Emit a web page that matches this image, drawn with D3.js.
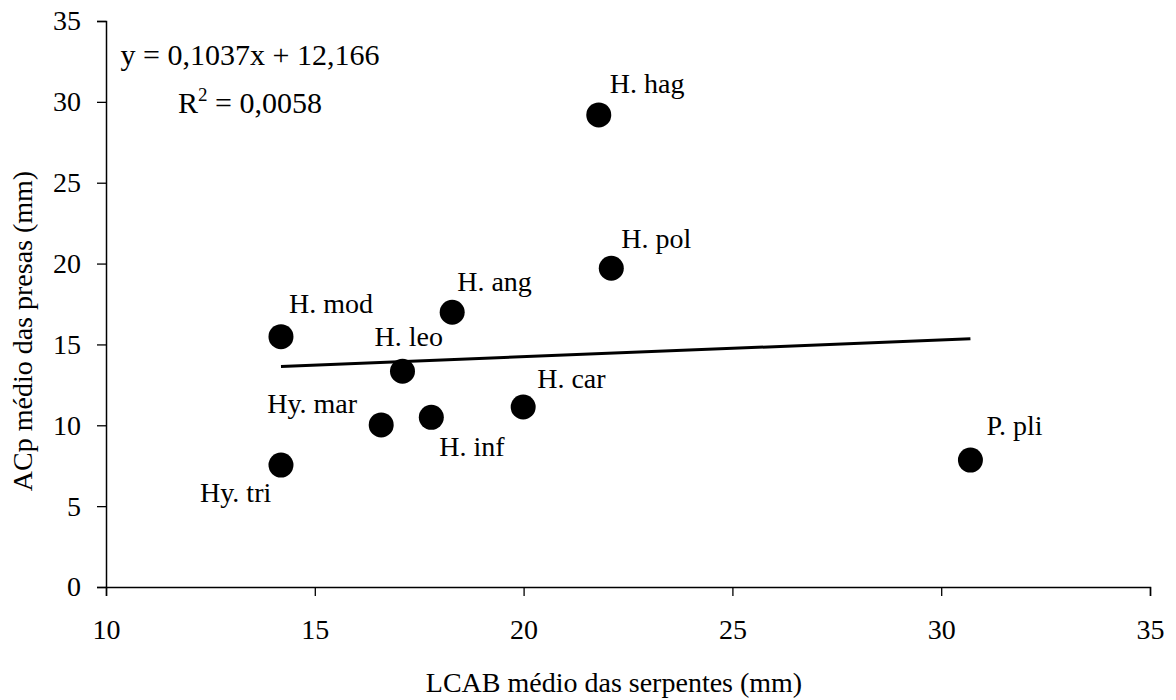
<!DOCTYPE html>
<html>
<head>
<meta charset="utf-8">
<script src="https://cdn.jsdelivr.net/npm/d3@7"></script>
<style>
  body { margin: 0; background: #fff; }
  svg { display: block; }
</style>
</head>
<body>
<div id="chart"></div>
<script>
// ---- data ----
const species = ["H. hag", "H. pol", "H. ang", "H. mod", "H. leo", "H. car", "H. inf", "Hy. mar", "Hy. tri", "P. pli"];
const lcab    = [21.8, 22.1, 18.29, 14.19, 17.1, 19.99, 17.79, 16.59, 14.19, 30.7];
const acp     = [29.19, 19.71, 16.99, 15.48, 13.34, 11.13, 10.49, 10.02, 7.54, 7.85];
// label offsets relative to point (pixels) : dx, dy (baseline)
const labelDx = [11, 10, 5, 8, -28, 14, 8, -114, -81, 16];
const labelDy = [-22, -20, -21, -24, -25, -19, 39, -12, 37, -25];
const xTicks = [10, 15, 20, 25, 30, 35];
const yTicks = [0, 5, 10, 15, 20, 25, 30, 35];
const slope = 0.1037, intercept = 12.166;
const eqLine1 = "y = 0,1037x + 12,166";
const xTitle = "LCAB médio das serpentes (mm)";
const yTitle = "ACp médio das presas (mm)";

const W = 1176, H = 700;
const FONT = '"Liberation Serif", "Times New Roman", serif';
const svg = d3.select("#chart").append("svg").attr("width", W).attr("height", H);

const x = d3.scaleLinear().domain([10, 35]).range([106, 1150]);
const y = d3.scaleLinear().domain([0, 35]).range([587, 21]);
const FS = 28;

// axes
const xAxis = d3.axisBottom(x).tickValues(xTicks).tickSize(9).tickPadding(16).tickFormat(d3.format("d"));
const yAxis = d3.axisLeft(y).tickValues(yTicks).tickSize(9).tickPadding(16).tickFormat(d3.format("d"));

const gx = svg.append("g").attr("transform", `translate(0,${y(0)})`).call(xAxis);
const gy = svg.append("g").attr("transform", `translate(${x(10)},0)`).call(yAxis);
[gx, gy].forEach(g => {
  g.select(".domain").attr("stroke", "#000").attr("stroke-width", 1.5);
  g.selectAll(".tick line").attr("stroke", "#000").attr("stroke-width", 1.3);
  g.selectAll(".tick text").style("font-family", FONT).style("font-size", FS + "px").attr("fill", "#000");
});
gx.selectAll(".tick text").attr("dy", "0.95em");

// trend line
const xmin = d3.min(lcab), xmax = d3.max(lcab);
svg.append("line")
  .attr("x1", x(xmin)).attr("y1", y(slope * xmin + intercept))
  .attr("x2", x(xmax)).attr("y2", y(slope * xmax + intercept))
  .attr("stroke", "#000").attr("stroke-width", 3);

// points
const data = species.map((s, i) => ({ s, x: lcab[i], y: acp[i], dx: labelDx[i], dy: labelDy[i] }));
svg.append("g").selectAll("circle").data(data).join("circle")
  .attr("cx", d => x(d.x)).attr("cy", d => y(d.y)).attr("r", 12.5).attr("fill", "#000");

// labels
svg.append("g").selectAll("text").data(data).join("text")
  .attr("x", d => x(d.x) + d.dx).attr("y", d => y(d.y) + d.dy)
  .style("font-family", FONT).style("font-size", FS + "px").attr("fill", "#000")
  .text(d => d.s);

// equation
svg.append("text").attr("x", 250).attr("y", 65).attr("text-anchor", "middle")
  .style("font-family", FONT).style("font-size", "30px").text(eqLine1);
const r2 = svg.append("text").attr("x", 250).attr("y", 113).attr("text-anchor", "middle")
  .style("font-family", FONT).style("font-size", "30px");
r2.append("tspan").text("R");
r2.append("tspan").style("font-size", "19px").attr("dy", -12).text("2");
r2.append("tspan").attr("dy", 12).text(" = 0,0058");

// axis titles
svg.append("text").attr("x", 614).attr("y", 692).attr("text-anchor", "middle")
  .style("font-family", FONT).style("font-size", FS + "px").text(xTitle);
svg.append("text").attr("transform", "translate(32,331) rotate(-90)").attr("text-anchor", "middle")
  .style("font-family", FONT).style("font-size", FS + "px").text(yTitle);
</script>
</body>
</html>
